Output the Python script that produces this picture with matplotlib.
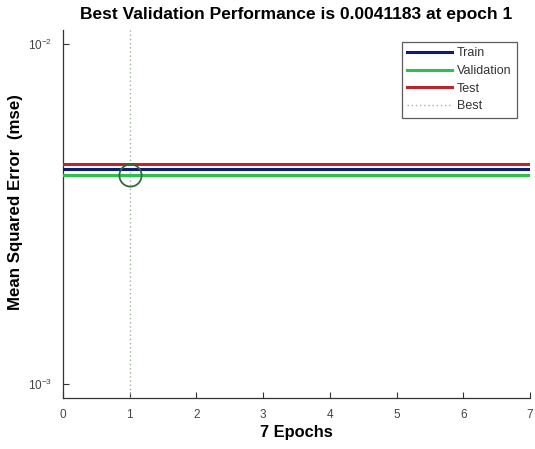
import matplotlib
matplotlib.use("Agg")
import matplotlib.pyplot as plt
import numpy as np

plt.rcParams['font.family'] = ['Liberation Sans', 'DejaVu Sans']

epochs = [0, 1, 2, 3, 4, 5, 6, 7]
train = [0.00428, 0.00428, 0.00428, 0.00428, 0.00428, 0.00428, 0.00428, 0.00428]
validation = [0.0041183, 0.0041183, 0.0041183, 0.0041183, 0.0041183, 0.0041183, 0.0041183, 0.0041183]
test = [0.00443, 0.00443, 0.00443, 0.00443, 0.00443, 0.00443, 0.00443, 0.00443]
best_epoch = 1
best_value = 0.0041183
xticks = [0, 1, 2, 3, 4, 5, 6, 7]

fig = plt.figure(figsize=(5.35, 4.49), dpi=100)
ax = fig.add_axes([0.1178, 0.1136, 0.8729, 0.8195])

ax.plot(epochs, train, color='#101c72', lw=2.2, label='Train', zorder=3)
ax.plot(epochs, validation, color='#2fbf4f', lw=2.2, label='Validation', zorder=3)
ax.plot(epochs, test, color='#b8272d', lw=2.2, label='Test', zorder=3)
ax.axvline(best_epoch, color='#9fb39a', lw=1.0, ls=(0, (1, 2)), label='Best', zorder=2)
ax.plot([best_epoch], [best_value], marker='o', ms=16, mfc='none', mec='#2e6b37', mew=1.3, zorder=4)

ax.set_yscale('log')
ax.set_ylim(10**-3.041, 10**-1.959)
ax.set_xlim(0, 7)
ax.set_xticks(xticks)
ax.set_yticks([1e-3, 1e-2])
ax.yaxis.set_minor_locator(matplotlib.ticker.NullLocator())

for s in ['top', 'right']:
    ax.spines[s].set_visible(False)
for s in ['left', 'bottom']:
    ax.spines[s].set_color('#333333')
    ax.spines[s].set_linewidth(0.9)
ax.tick_params(direction='in', length=4, labelsize=8.5, colors='#333333', labelcolor='#444444', pad=8)

ax.set_title('Best Validation Performance is 0.0041183 at epoch 1', fontsize=12.5, fontweight='bold', pad=8)
ax.set_xlabel('7 Epochs', fontsize=11.8, fontweight='bold', labelpad=3)
ax.set_ylabel('Mean Squared Error  (mse)', fontsize=12.2, fontweight='bold')
ax.yaxis.set_label_coords(-0.0857, 0.533)

leg = ax.legend(loc='upper right', bbox_to_anchor=(0.985, 0.985), fontsize=9, frameon=True, fancybox=False,
                edgecolor='#333333', handlelength=3.6, handletextpad=0.35, borderpad=0.45, labelspacing=0.45)
leg.get_frame().set_linewidth(0.9)
for t in leg.get_texts():
    t.set_color('#333333')

fig.savefig('out.png', dpi=100)
